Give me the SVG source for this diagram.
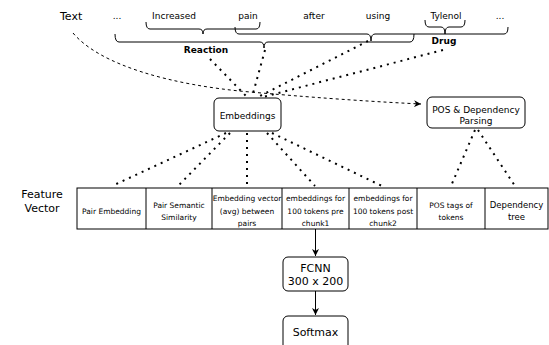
<svg xmlns="http://www.w3.org/2000/svg" width="549" height="345" viewBox="0 0 549 345">
<defs>
<style>
text{font-family:"DejaVu Sans","Liberation Sans",sans-serif;fill:#000}
.w{font-size:9px;text-anchor:middle}
.b{font-size:9px;font-weight:bold;text-anchor:middle}
.big{font-size:11px}
.c{font-size:7.5px;text-anchor:middle}
.brace{fill:none;stroke:#000;stroke-width:1}
.box{fill:#fff;stroke:#000;stroke-width:1}
.dot{fill:none;stroke:#000;stroke-width:2;stroke-dasharray:2 5}
.dash{fill:none;stroke:#000;stroke-width:1;stroke-dasharray:3 3}
.arr{fill:none;stroke:#000;stroke-width:1}
</style>
<marker id="ah" viewBox="0 0 10 10" refX="10" refY="5" markerWidth="7" markerHeight="7" markerUnits="userSpaceOnUse" orient="auto"><path d="M0,0 L10,5 L0,10 L3,5 Z" fill="#000"/></marker>
</defs>
<rect width="549" height="345" fill="#fff"/>

<g id="text-row">
<text class="big" x="60" y="20">Text</text>
<text class="w" x="117" y="19">...</text>
<text class="w" x="174" y="19">Increased</text>
<text class="w" x="248" y="19">pain</text>
<text class="w" x="314" y="19">after</text>
<text class="w" x="378" y="19">using</text>
<text class="w" x="446" y="19">Tylenol</text>
<text class="w" x="500" y="19">...</text>
</g>

<g id="braces">
<path class="brace" d="M146,22 Q146,29 150,29 L199,29 Q203,29 203,34 Q203,29 207,29 L256,29 Q260,29 260,22"/>
<path class="brace" d="M115,34 Q115,42 119,42 L260,42 Q264,42 264,48 Q264,42 268,42 L410,42 Q414,42 414,34"/>
<path class="brace" d="M235,27 Q235,34 239,34 L367,34 Q371,34 371,41 Q371,34 375,34 L504,34 Q508,34 508,27"/>
<path class="brace" d="M425,20 Q425,27 429,27 L441,27 Q445,27 445,34 Q445,27 449,27 L461,27 Q465,27 465,20"/>
<text class="b" x="206" y="53">Reaction</text>
<text class="b" x="444" y="44">Drug</text>
</g>

<g id="embeddings">
<rect class="box" x="214" y="98" width="67" height="33" rx="5"/>
<text class="w" x="247.5" y="119">Embeddings</text>
</g>

<g id="pos-parsing">
<rect class="box" x="427" y="97" width="98" height="31" rx="5"/>
<text class="w" x="476" y="113">POS &amp; Dependency</text>
<text class="w" x="476" y="124">Parsing</text>
</g>

<g id="feature-label">
<text class="big" x="42" y="198" text-anchor="middle">Feature</text>
<text class="big" x="42" y="212" text-anchor="middle">Vector</text>
</g>

<g id="feature-vector">
<rect class="box" x="77" y="188" width="471" height="41"/>
<path class="arr" d="M146,188V229M212,188V229M282,188V229M349,188V229M417,188V229M485,188V229"/>
<text class="c" x="111.5" y="213.5">Pair Embedding</text>
<text class="c" x="179" y="207.5">Pair Semantic</text>
<text class="c" x="179" y="219.5">Similarity</text>
<text class="c" x="247" y="201">Embedding vector</text>
<text class="c" x="247" y="213.5">(avg) between</text>
<text class="c" x="247" y="226">pairs</text>
<text class="c" x="315.5" y="201">embeddings for</text>
<text class="c" x="315.5" y="213.5">100 tokens pre</text>
<text class="c" x="315.5" y="226">chunk1</text>
<text class="c" x="383" y="201">embeddings for</text>
<text class="c" x="383" y="213.5">100 tokens post</text>
<text class="c" x="383" y="226">chunk2</text>
<text class="c" x="451" y="207.5">POS tags of</text>
<text class="c" x="451" y="219.5">tokens</text>
<text class="c" x="516.5" y="208" style="font-size:8.5px">Dependency</text>
<text class="c" x="516.5" y="220" style="font-size:8.5px">tree</text>
</g>

<g id="fcnn">
<rect class="box" x="283" y="257" width="65" height="34" rx="5"/>
<text class="big" x="315.5" y="272" text-anchor="middle">FCNN</text>
<text class="big" x="315.5" y="285" text-anchor="middle">300 x 200</text>
</g>

<g id="softmax">
<rect class="box" x="283" y="316" width="65" height="40" rx="5"/>
<text class="big" x="315.5" y="336" text-anchor="middle">Softmax</text>
</g>

<g id="connectors">
<path class="dash" d="M73,33 C100,65 170,85 250,92 S380,102 421,104" marker-end="url(#ah)"/>
<path class="dot" d="M210,59 L247,97"/>
<path class="dot" d="M265,50 L252,97"/>
<path class="dot" d="M368,41 L258,97"/>
<path class="dot" d="M443,50 L263,97"/>
<path class="dot" d="M226,133 L112,186"/>
<path class="dot" d="M230,133 L178,186"/>
<path class="dot" d="M247,133 L247,186"/>
<path class="dot" d="M267,133 L315,186"/>
<path class="dot" d="M272,133 L382,186"/>
<path class="dot" d="M475,130 L451,186"/>
<path class="dot" d="M478,130 L515,186"/>
<path class="arr" d="M315.5,229 V256" marker-end="url(#ah)"/>
<path class="arr" d="M315.5,291 V315" marker-end="url(#ah)"/>
</g>
</svg>
